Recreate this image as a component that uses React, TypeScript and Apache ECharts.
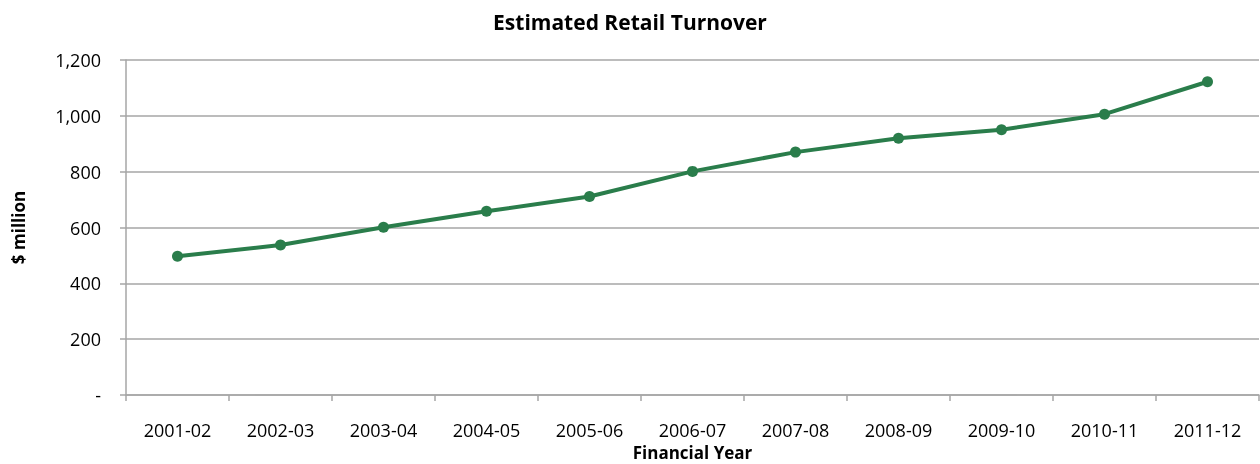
import React, { useEffect, useRef } from "react";
import * as echarts from "echarts";

const categories = ["2001-02", "2002-03", "2003-04", "2004-05", "2005-06", "2006-07", "2007-08", "2008-09", "2009-10", "2010-11", "2011-12"];
const turnover = [497, 537, 601, 658, 711, 801, 870, 920, 950, 1006, 1122];
const title = "Estimated Retail Turnover";
const yName = "$ million";
const xName = "Financial Year";

export default function App() {
  const ref = useRef<HTMLDivElement>(null);
  useEffect(() => {
    const chart = echarts.init(ref.current!, null, { renderer: "svg" });
    const font = "'Open Sans', 'Noto Sans', sans-serif";
    chart.setOption({
      animation: false,
      textStyle: { fontFamily: font },
      title: {
        text: title,
        left: "center",
        top: 6,
        textStyle: { fontFamily: font, fontSize: 21, fontWeight: "bold", color: "#000" },
      },
      grid: { left: 126, right: 1, top: 60, bottom: 69, containLabel: false, outerBoundsMode: "none" },
      xAxis: {
        type: "category",
        data: categories,
        boundaryGap: true,
        name: xName,
        nameLocation: "middle",
        nameGap: 49,
        nameTextStyle: { fontFamily: font, fontSize: 17, fontWeight: "bold", color: "#000" },
        axisLine: { lineStyle: { color: "#a6a6a6", width: 1.5 } },
        axisTick: { show: true, length: 6, alignWithLabel: false, lineStyle: { color: "#a6a6a6", width: 1.5 } },
        axisLabel: { fontFamily: font, fontSize: 18, color: "#000", margin: 26 },
      },
      yAxis: {
        type: "value",
        min: 0,
        max: 1200,
        interval: 200,
        name: yName,
        nameLocation: "middle",
        nameGap: 99,
        nameRotate: 90,
        nameTextStyle: { fontFamily: font, fontSize: 17, fontWeight: "bold", color: "#000" },
        axisLine: { show: true, lineStyle: { color: "#a6a6a6", width: 1.5 } },
        axisTick: { show: true, length: 6, lineStyle: { color: "#a6a6a6", width: 1.5 } },
        axisLabel: {
          fontFamily: font,
          fontSize: 18,
          color: "#000",
          margin: 25,
          formatter: (v: number) => (v === 0 ? "-" : v.toLocaleString("en-US")),
        },
        splitLine: { lineStyle: { color: "#a6a6a6", width: 1.5 } },
      },
      series: [
        {
          type: "line",
          data: turnover,
          symbol: "circle",
          symbolSize: 11,
          lineStyle: { color: "#2a7d4b", width: 4 },
          itemStyle: { color: "#2a7d4b" },
        },
      ],
    });
    return () => chart.dispose();
  }, []);
  return <div ref={ref} style={{ position: "fixed", left: 0, top: 0, width: 1260, height: 464 }} />;
}
